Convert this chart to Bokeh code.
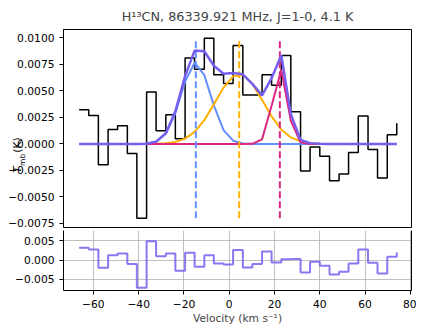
from bokeh.plotting import figure
from bokeh.layouts import column
from bokeh.models import Range1d, FixedTicker, LinearAxis
from bokeh.embed import file_html
from bokeh.resources import INLINE

FONT = "DejaVu Sans"
TICK_FS = "10.7px"

title_text = "H¹³CN, 86339.921 MHz, J=1-0, 4.1 K"
xlabel_text = "Velocity (km s⁻¹)"
# y label pieces: T (italic), mb (subscript), (K)
ylabel_pieces = ["mb", "T", "(K)"]
ylabel_pos = [-0.0015, -0.0024, -0.0001]

# channel velocities (km/s)
velocity = [-66.3, -62.05, -57.8, -53.5, -49.3, -45.0, -40.8, -36.5, -32.3, -28.0,
            -23.8, -19.5, -15.3, -11.0, -6.8, -2.5, 1.7, 6.0, 10.2, 14.5,
            18.7, 23.0, 27.2, 31.5, 35.7, 40.0, 44.3, 48.5, 52.7, 57.0,
            61.3, 65.5, 69.8, 74.0]

# observed spectrum T_mb (K)
spectrum = [0.00322, 0.00268, -0.00196, 0.00137, 0.00172, -0.0009, -0.0070, 0.0049, 0.00125, 0.00275,
            0.0005, 0.0081, 0.00705, 0.00997, 0.00654, 0.0057, 0.0093, 0.00461, 0.00461, 0.00654,
            0.00555, 0.00835, 0.00303, -0.00255, -0.00028, -0.00115, -0.00346, -0.00283, -0.0008, 0.00265,
            -0.00052, -0.0032, 0.00088, 0.00196]

# fitted components
comp_blue = [0, 0, 0, 0, 0, 0, 0, 0.00003, 0.0002, 0.00096,
             0.0029, 0.0059, 0.00767, 0.0065, 0.00364, 0.0013, 0.00031, 0.00005, 0, 0,
             0, 0, 0, 0, 0, 0, 0, 0, 0, 0,
             0, 0, 0, 0]
comp_orange = [0, 0, 0, 0, 0, 0, 0, 0, 0.000015, 0.00006,
               0.00018, 0.0005, 0.00114, 0.00225, 0.00374, 0.00532, 0.00638, 0.00652, 0.00566, 0.00415,
               0.00261, 0.00137, 0.00062, 0.00024, 0.00008, 0.00002, 0, 0, 0, 0,
               0, 0, 0, 0]
comp_pink = [0, 0, 0, 0, 0, 0, 0, 0, 0, 0,
             0, 0, 0, 0, 0, 0, 0, 0, 0.00001, 0.00044,
             0.0036, 0.0070, 0.0022, 0.00015, 0, 0, 0, 0, 0, 0,
             0, 0, 0, 0]
model_total = [0, 0, 0, 0, 0, 0, 0, 0.00003, 0.00022, 0.00102,
               0.00308, 0.0064, 0.00881, 0.00875, 0.00738, 0.00662, 0.00669, 0.00657, 0.00567, 0.00459,
               0.00621, 0.00837, 0.00282, 0.00039, 0.00008, 0.00002, 0, 0, 0, 0,
               0, 0, 0, 0]

# residuals
residual = [0.0032, 0.00276, -0.00197, 0.00129, 0.00173, -0.00103, -0.0071, 0.0049, 0.00103, 0.00173,
            -0.00273, 0.0019, -0.0017, 0.00129, -0.00085, -0.0011, 0.0026, -0.0019, -0.001, 0.0022,
            -0.0006, 0.0002, 0.00026, -0.0032, -0.0004, -0.00145, -0.0037, -0.003, -0.00085, 0.00276,
            -0.00068, -0.00343, 0.00087, 0.00198]

# component centres (km/s)
centres = [-14.75, 4.4, 22.35]
comp_colors = ["#648FFF", "#FFB000", "#DC267F"]
total_color = "#785EF0"

x_ticks = [-60, -40, -20, 0, 20, 40, 60, 80]
y_ticks_main = [-0.0075, -0.005, -0.0025, 0.0, 0.0025, 0.005, 0.0075, 0.01]
y_ticks_res = [-0.005, 0.0, 0.005]


def fmt(v, nd):
    s = f"{v:.{nd}f}"
    return s.replace("-", "\u2212")


def style_axis(ax):
    ax.major_label_text_font = FONT
    ax.major_label_text_font_size = TICK_FS
    ax.major_label_text_color = "black"
    ax.major_tick_out = 4
    ax.major_tick_in = 0
    ax.minor_tick_out = 0
    ax.minor_tick_in = 0
    ax.major_tick_line_color = "black"
    ax.axis_line_color = "black"
    ax.major_label_standoff = 5


xr = Range1d(-73.2, 80.5)

p = figure(frame_width=348, frame_height=198, x_range=xr,
           y_range=Range1d(-0.00788, 0.0108),
           output_backend="svg", toolbar_location=None,
           min_border_left=63, min_border_right=5, min_border_top=24, min_border_bottom=3,
           title=title_text)
p.title.text_font = FONT
p.title.text_font_size = "12.8px"
p.title.text_font_style = "normal"
p.title.align = "center"
p.title.standoff = 12
p.grid.visible = False
p.xaxis.visible = False
p.outline_line_color = "black"
p.outline_line_alpha = 1
p.outline_line_width = 1
style_axis(p.yaxis[0])
p.yaxis.ticker = FixedTicker(ticks=y_ticks_main)
p.yaxis.major_label_overrides = {t: fmt(t, 4) for t in y_ticks_main}

# y label pieces drawn as single-tick label axes (overlapping the tick labels like the original)
piece_sizes = ["7.5px", TICK_FS, TICK_FS]
piece_styles = ["normal", "italic", "normal"]
piece_standoffs = [-22, -19, -19]
for txt, pos, fs, st, so in zip(ylabel_pieces, ylabel_pos, piece_sizes, piece_styles, piece_standoffs):
    ax = LinearAxis(ticker=FixedTicker(ticks=[pos]),
                    major_label_overrides={pos: txt},
                    major_label_orientation="vertical",
                    major_label_text_font=FONT, major_label_text_font_size=fs,
                    major_label_text_font_style=st, major_label_text_color="black",
                    major_label_standoff=so,
                    major_tick_out=0, major_tick_in=0, minor_tick_out=0, minor_tick_in=0,
                    axis_line_color=None, major_tick_line_color=None,
                    minor_tick_line_color=None)
    p.add_layout(ax, "left")

p.step(velocity, spectrum, mode="after", line_color="black", line_width=1.5)
for comp, col in zip([comp_blue, comp_orange, comp_pink], comp_colors):
    p.line(velocity, comp, line_color=col, line_width=2)
ymin, ymax = min(spectrum), max(spectrum)
for c, col in zip(centres, comp_colors):
    p.segment(x0=[c], y0=[ymin], x1=[c], y1=[ymax], line_color=col,
              line_width=2, line_dash="7 3")
p.line(velocity, model_total, line_color=total_color, line_width=2.5)

r = figure(frame_width=348, frame_height=60, x_range=xr,
           y_range=Range1d(-0.00784, 0.00765),
           output_backend="svg", toolbar_location=None,
           min_border_left=63, min_border_right=5, min_border_top=0, min_border_bottom=10)
r.outline_line_color = None
style_axis(r.xaxis[0])
style_axis(r.yaxis[0])
r.xaxis.ticker = FixedTicker(ticks=x_ticks)
r.xaxis.major_label_overrides = {t: fmt(t, 0) for t in x_ticks}
r.yaxis.ticker = FixedTicker(ticks=y_ticks_res)
r.yaxis.major_label_overrides = {t: fmt(t, 3) for t in y_ticks_res}
r.xaxis.axis_label = xlabel_text
r.xaxis.axis_label_text_font = FONT
r.xaxis.axis_label_text_font_size = TICK_FS
r.xaxis.axis_label_text_font_style = "normal"
r.xaxis.axis_label_standoff = 1
r.add_layout(LinearAxis(ticker=FixedTicker(ticks=[]), axis_line_color="black",
                        major_tick_out=0, major_tick_in=0, minor_tick_out=0, minor_tick_in=0,
                        major_label_standoff=0), "right")
r.grid.grid_line_color = "#b0b0b0"
r.grid.grid_line_width = 0.8
r.step(velocity, residual, mode="after", line_color=total_color, line_width=2, line_alpha=0.85)

layout = column(p, r, spacing=0)
with open("out.html", "w") as f:
    f.write(file_html(layout, INLINE))
